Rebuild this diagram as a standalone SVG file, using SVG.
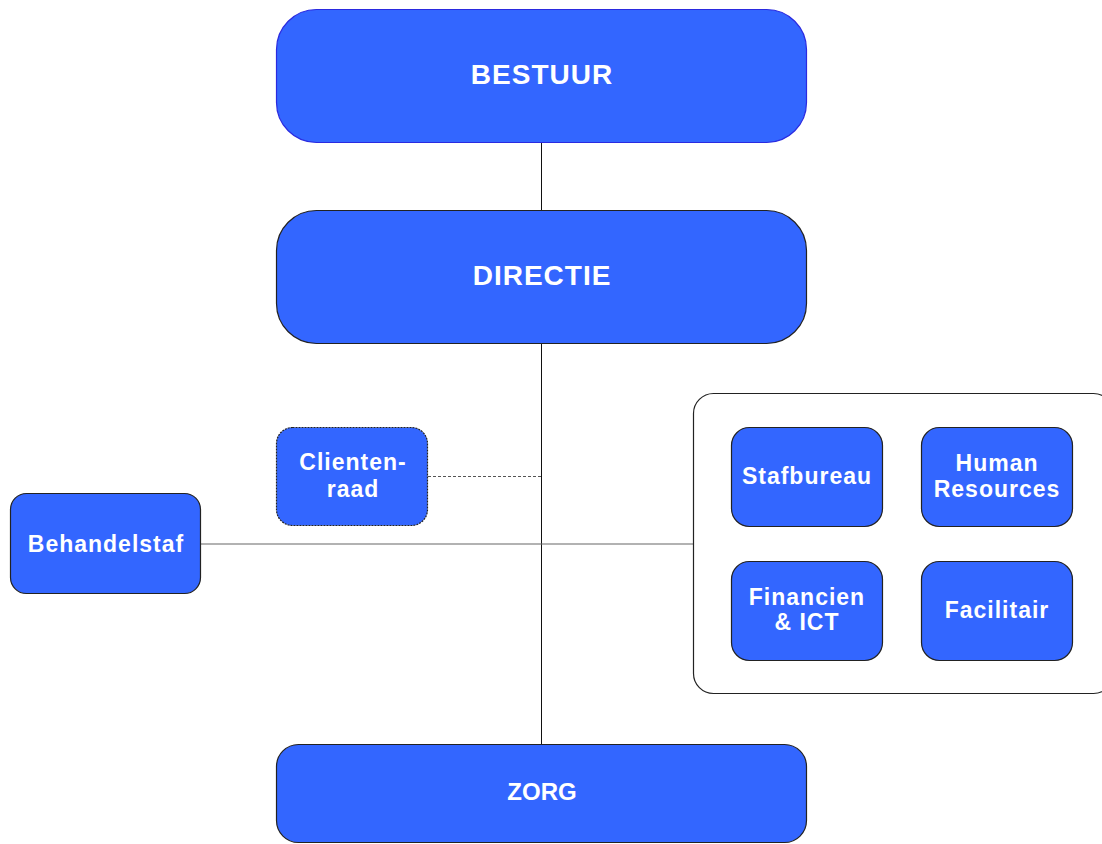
<svg xmlns="http://www.w3.org/2000/svg" width="1102" height="844" viewBox="0 0 1102 844">
<style>
.box{fill:#3366ff;stroke:#222;stroke-width:1.2}
.big{fill:#3366ff;stroke:#2a2ae0;stroke-width:1.2}
.t{font-family:"Liberation Sans",Arial,sans-serif;font-weight:bold;fill:#fff;text-anchor:middle}
.tb{font-size:28px;letter-spacing:1px}
.ts{font-size:23px;letter-spacing:1px}
.ln{stroke:#111;stroke-width:1;fill:none}
</style>
<rect width="1102" height="844" fill="#fff"/>
<g id="connectors">
<line class="ln" x1="541.5" y1="143" x2="541.5" y2="210"/>
<line class="ln" x1="541.5" y1="343" x2="541.5" y2="744"/>
<line x1="200" y1="544" x2="693" y2="544" stroke="#666" stroke-width="1.2"/>
<line x1="428" y1="476.5" x2="541" y2="476.5" stroke="#555" stroke-width="1" stroke-dasharray="3,2"/>
</g>
<g id="bestuur"><rect class="big" x="276.5" y="9.5" width="530" height="133" rx="40"/><text class="t tb" x="542" y="84">BESTUUR</text></g>
<g id="directie"><rect class="box" x="276.5" y="210.5" width="530" height="133" rx="40"/><text class="t tb" x="542" y="285">DIRECTIE</text></g>
<g id="zorg"><rect class="box" x="276.5" y="744.5" width="530" height="98" rx="22"/><text class="t" font-size="24" x="542" y="800">ZORG</text></g>
<g id="clientenraad"><rect class="box" x="276.5" y="427.5" width="151" height="98" rx="16" stroke-dasharray="2,1"/><text class="t ts" x="353" y="470">Clienten-</text><text class="t ts" x="353" y="497">raad</text></g>
<g id="behandelstaf"><rect class="box" x="10.5" y="493.5" width="190" height="100" rx="16"/><text class="t ts" x="106" y="552">Behandelstaf</text></g>
<g id="staf-groep"><rect x="693.5" y="393.5" width="420" height="300" rx="20" fill="#fff" stroke="#222" stroke-width="1.2"/></g>
<g id="stafbureau"><rect class="box" x="731.5" y="427.5" width="151" height="99" rx="18"/><text class="t ts" x="807" y="484">Stafbureau</text></g>
<g id="hr"><rect class="box" x="921.5" y="427.5" width="151" height="99" rx="18"/><text class="t ts" x="997" y="471">Human</text><text class="t ts" x="997" y="497">Resources</text></g>
<g id="financien"><rect class="box" x="731.5" y="561.5" width="151" height="99" rx="18"/><text class="t ts" x="807" y="605">Financien</text><text class="t ts" x="807" y="630">&amp; ICT</text></g>
<g id="facilitair"><rect class="box" x="921.5" y="561.5" width="151" height="99" rx="18"/><text class="t ts" x="997" y="618">Facilitair</text></g>
</svg>
